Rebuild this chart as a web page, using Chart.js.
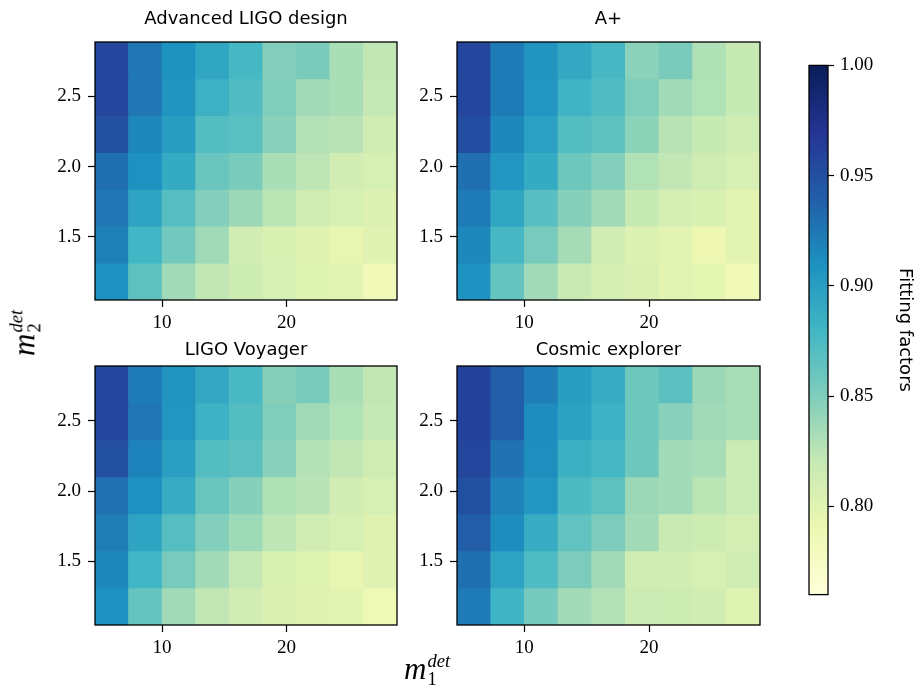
<!DOCTYPE html>
<html>
<head>
<meta charset="utf-8">
<script src="https://cdn.jsdelivr.net/npm/chart.js@4.4.1/dist/chart.umd.min.js"></script>
<style>
  body { margin: 0; background: #fff; width: 918px; height: 686px; position: relative; overflow: hidden; }
  canvas { position: absolute; }
  .mlabel { position: absolute; font-family: "Liberation Serif", serif; font-size: 31px; white-space: nowrap; color: #000; line-height: 1; }
  .mlabel i { font-style: italic; }
  .ss { display: inline-block; vertical-align: -0.3em; font-size: 0.6em; line-height: 0.95; margin-left: 1px; }
  .ss span { display: block; }
</style>
</head>
<body>
<canvas id="p0" width="422" height="330" style="left:35px;top:0px"></canvas>
<canvas id="p1" width="423" height="330" style="left:397px;top:0px"></canvas>
<canvas id="p2" width="422" height="331" style="left:35px;top:324px"></canvas>
<canvas id="p3" width="423" height="331" style="left:397px;top:324px"></canvas>
<canvas id="cbar" width="119" height="564" style="left:799px;top:48px"></canvas>
<div class="mlabel" id="xlab" style="left:404px;top:652px"><i>m</i><span class="ss"><span><i>det</i></span><span>1</span></span></div>
<div class="mlabel" id="ylab" style="left:25px;top:333px;transform:translate(-50%,-50%) rotate(-90deg)"><i>m</i><span class="ss"><span><i>det</i></span><span>2</span></span></div>

<script>
// cell centres along m1 (all columns are 2.7 wide) and cell edges along m2
const m1Values = [5.95, 8.65, 11.35, 14.05, 16.75, 19.45, 22.15, 24.85, 27.55];
const m2Edges = [1.048, 1.311, 1.574, 1.837, 2.100, 2.363, 2.626, 2.889];
const xTicks = [10, 20];
const yTicks = [1.5, 2.0, 2.5];
const cbTicks = [0.80, 0.85, 0.90, 0.95, 1.00];
const cbMin = 0.76;
const cbMax = 1.00;
const titles = ["Advanced LIGO design", "A+", "LIGO Voyager", "Cosmic explorer"];

// fitting factors, one row per m2 cell, lowest m2 first
const aligoFF = [
  [0.910, 0.866, 0.836, 0.822, 0.815, 0.808, 0.802, 0.798, 0.784],
  [0.920, 0.880, 0.856, 0.836, 0.812, 0.806, 0.800, 0.794, 0.800],
  [0.925, 0.895, 0.870, 0.848, 0.838, 0.825, 0.812, 0.808, 0.803],
  [0.930, 0.910, 0.890, 0.860, 0.853, 0.832, 0.824, 0.812, 0.808],
  [0.950, 0.916, 0.900, 0.871, 0.868, 0.846, 0.828, 0.826, 0.814],
  [0.957, 0.925, 0.907, 0.884, 0.872, 0.850, 0.836, 0.832, 0.821],
  [0.957, 0.925, 0.908, 0.893, 0.878, 0.848, 0.853, 0.832, 0.822]
];
const aplusFF = [
  [0.909, 0.862, 0.836, 0.818, 0.809, 0.805, 0.799, 0.796, 0.784],
  [0.916, 0.877, 0.854, 0.834, 0.811, 0.803, 0.799, 0.789, 0.799],
  [0.923, 0.893, 0.869, 0.847, 0.836, 0.820, 0.809, 0.806, 0.798],
  [0.930, 0.906, 0.890, 0.858, 0.848, 0.829, 0.822, 0.814, 0.807],
  [0.952, 0.915, 0.898, 0.871, 0.865, 0.844, 0.826, 0.820, 0.814],
  [0.957, 0.923, 0.905, 0.882, 0.872, 0.850, 0.835, 0.829, 0.820],
  [0.957, 0.923, 0.907, 0.891, 0.877, 0.845, 0.852, 0.830, 0.820]
];
const voyagerFF = [
  [0.910, 0.862, 0.836, 0.822, 0.811, 0.805, 0.801, 0.799, 0.786],
  [0.915, 0.880, 0.854, 0.835, 0.821, 0.806, 0.802, 0.793, 0.800],
  [0.922, 0.895, 0.870, 0.848, 0.837, 0.824, 0.812, 0.808, 0.801],
  [0.928, 0.910, 0.888, 0.860, 0.847, 0.830, 0.826, 0.812, 0.808],
  [0.950, 0.918, 0.899, 0.871, 0.867, 0.846, 0.828, 0.822, 0.814],
  [0.957, 0.925, 0.906, 0.883, 0.871, 0.850, 0.836, 0.829, 0.821],
  [0.957, 0.923, 0.907, 0.891, 0.876, 0.847, 0.853, 0.832, 0.822]
];
const ceFF = [
  [0.923, 0.882, 0.855, 0.835, 0.828, 0.816, 0.815, 0.811, 0.802],
  [0.930, 0.896, 0.873, 0.851, 0.836, 0.814, 0.812, 0.807, 0.814],
  [0.940, 0.913, 0.888, 0.864, 0.851, 0.835, 0.818, 0.815, 0.810],
  [0.951, 0.919, 0.905, 0.874, 0.866, 0.838, 0.835, 0.825, 0.817],
  [0.958, 0.928, 0.912, 0.885, 0.878, 0.858, 0.835, 0.833, 0.817],
  [0.960, 0.940, 0.913, 0.897, 0.883, 0.858, 0.846, 0.836, 0.833],
  [0.960, 0.940, 0.921, 0.900, 0.888, 0.858, 0.867, 0.838, 0.833]
];
const panels = [aligoFF, aplusFF, voyagerFF, ceFF];

const ylgnbu = ["#ffffd9", "#edf8b1", "#c7e9b4", "#7fcdbb", "#41b6c4", "#1d91c0", "#225ea8", "#253494", "#081d58"];

function hexToRgb(h) {
  return [parseInt(h.slice(1, 3), 16), parseInt(h.slice(3, 5), 16), parseInt(h.slice(5, 7), 16)];
}

function cmap(v) {
  let t = (v - cbMin) / (cbMax - cbMin);
  t = Math.max(0, Math.min(1, t));
  const s = t * (ylgnbu.length - 1);
  const i = Math.min(ylgnbu.length - 2, Math.floor(s));
  const f = s - i;
  const a = hexToRgb(ylgnbu[i]);
  const b = hexToRgb(ylgnbu[i + 1]);
  const c = a.map((x, k) => Math.round(x + (b[k] - x) * f));
  return "rgb(" + c.join(",") + ")";
}

const serif = { family: "'Liberation Serif', serif", size: 19 };
const sans = "'DejaVu Sans', sans-serif";

const framePlugin = {
  id: "frame",
  afterDatasetsDraw(chart) {
    const { ctx, chartArea: a } = chart;
    ctx.save();
    ctx.strokeStyle = "#000";
    ctx.lineWidth = 1.3;
    ctx.strokeRect(a.left, a.top, a.right - a.left, a.bottom - a.top);
    ctx.restore();
  }
};

function buildPanel(idx) {
  const grid = panels[idx];
  const cells = [];
  grid.forEach((row, r) => {
    row.forEach((v, c) => {
      cells.push({ x: m1Values[c], y: [m2Edges[r], m2Edges[r + 1]], v });
    });
  });
  const upper = idx < 2;

  new Chart(document.getElementById("p" + idx), {
    type: "bar",
    data: {
      datasets: [{
        data: cells,
        backgroundColor: (c) => (c.raw ? cmap(c.raw.v) : "#000"),
        borderWidth: 0,
        barPercentage: 1,
        categoryPercentage: 1
      }]
    },
    options: {
      responsive: false,
      animation: false,
      events: [],
      layout: { padding: { left: 0, right: 60, top: 0, bottom: 0 } },
      plugins: {
        legend: { display: false },
        tooltip: { enabled: false },
        title: {
          display: true,
          fullSize: false,
          text: titles[idx],
          color: "#000",
          font: { family: sans, size: 18, weight: "normal" },
          padding: upper ? { top: 8.5, bottom: 11.9 } : { top: 15.5, bottom: 4.9 }
        }
      },
      scales: {
        x: {
          type: "linear",
          min: 4.6,
          max: 28.9,
          offset: false,
          afterBuildTicks: (axis) => { axis.ticks = xTicks.map((v) => ({ value: v })); },
          afterFit: (axis) => { axis.height = 30; },
          grid: { offset: false, drawOnChartArea: false, drawTicks: true, tickLength: 7, tickColor: "#000", tickWidth: 1.2 },
          border: { display: false },
          ticks: { color: "#000", font: serif, padding: 5, maxRotation: 0, callback: (v) => String(v) }
        },
        y: {
          type: "linear",
          min: m2Edges[0],
          max: m2Edges[m2Edges.length - 1],
          afterBuildTicks: (axis) => { axis.ticks = yTicks.map((v) => ({ value: v })); },
          afterFit: (axis) => { axis.width = 60; },
          grid: { drawOnChartArea: false, drawTicks: true, tickLength: 7, tickColor: "#000", tickWidth: 1.2 },
          border: { display: false },
          ticks: { color: "#000", font: serif, padding: 7, callback: (v) => Number(v).toFixed(1) }
        }
      }
    },
    plugins: [framePlugin]
  });
}

function buildColorbar() {
  new Chart(document.getElementById("cbar"), {
    type: "bar",
    data: {
      labels: [""],
      datasets: [{
        data: [[cbMin, cbMax]],
        backgroundColor: (c) => {
          const area = c.chart.chartArea;
          if (!area) return ylgnbu[4];
          const g = c.chart.ctx.createLinearGradient(0, area.bottom, 0, area.top);
          ylgnbu.forEach((col, i) => g.addColorStop(i / (ylgnbu.length - 1), col));
          return g;
        },
        borderWidth: 0,
        barPercentage: 1,
        categoryPercentage: 1
      }]
    },
    options: {
      responsive: false,
      animation: false,
      events: [],
      layout: { padding: { left: 10, right: 0, top: 10, bottom: 10 } },
      plugins: { legend: { display: false }, tooltip: { enabled: false } },
      scales: {
        x: { display: false },
        y: {
          position: "right",
          min: cbMin,
          max: cbMax,
          afterBuildTicks: (axis) => { axis.ticks = cbTicks.map((v) => ({ value: v })); },
          afterFit: (axis) => { axis.width = 90; },
          grid: { drawOnChartArea: false, drawTicks: true, tickLength: 6, tickColor: "#000", tickWidth: 1.2 },
          border: { display: false },
          ticks: { color: "#000", font: serif, padding: 6, callback: (v) => Number(v).toFixed(2) },
          title: {
            display: true,
            text: "Fitting factors",
            color: "#000",
            font: { family: sans, size: 18 },
            padding: { top: 3, bottom: 3 }
          }
        }
      }
    },
    plugins: [framePlugin]
  });
}

document.addEventListener("DOMContentLoaded", () => {
  for (let i = 0; i < 4; i++) buildPanel(i);
  buildColorbar();
});
</script>
</body>
</html>
